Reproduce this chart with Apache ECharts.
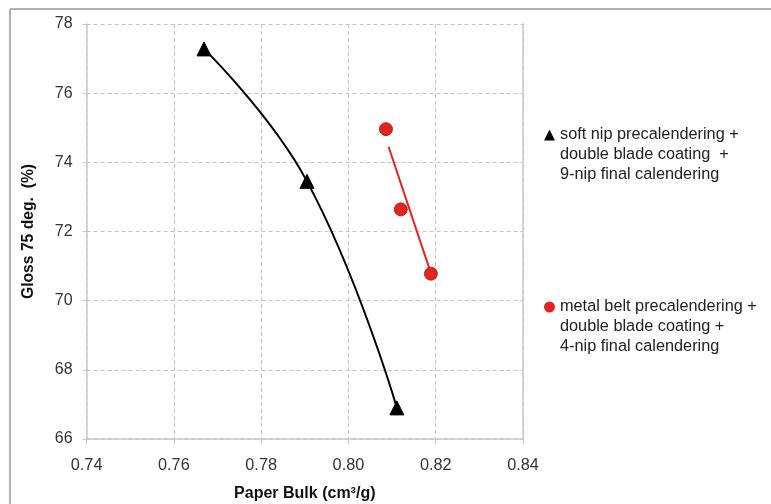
<!DOCTYPE html>
<html><head><meta charset="utf-8">
<script src="https://cdn.jsdelivr.net/npm/echarts@6/dist/echarts.min.js"></script>
<style>html,body{margin:0;padding:0;background:#fff}#c{width:771px;height:504px}</style>
</head><body><div id="c"></div>
<script>
// Data
const softNipBulk = [0.7669, 0.7905, 0.8111];
const softNipGloss = [77.28, 73.45, 66.9];
const metalBeltBulk = [0.8086, 0.8120, 0.8189];
const metalBeltGloss = [74.96, 72.64, 70.78];
const metalTrendBulk = [0.8092, 0.8187];
const metalTrendGloss = [74.45, 70.87];
const xTicks = [0.74, 0.76, 0.78, 0.80, 0.82, 0.84];
const yTicks = [66, 68, 70, 72, 74, 76, 78];
const softName = 'soft nip precalendering +\ndouble blade coating  +\n9-nip final calendering';
const metalName = 'metal belt precalendering +\ndouble blade coating +\n4-nip final calendering';

const zip = (a, b) => a.map((v, i) => [v, b[i]]);
const font = 'Liberation Sans, Arial, sans-serif';
const legendText = {fontSize: 16.3, color: '#222', lineHeight: 20, fontFamily: font};

const chart = echarts.init(document.getElementById('c'), null, {renderer: 'canvas'});
chart.setOption({
  animation: false,
  backgroundColor: '#fff',
  textStyle: {fontFamily: font},
  grid: {left: 86.6, right: 248, top: 24, bottom: 65, containLabel: false, outerBoundsMode: 'none'},
  xAxis: {
    type: 'value', min: xTicks[0], max: xTicks[xTicks.length - 1], interval: 0.02,
    name: 'Paper Bulk (cm³/g)', nameLocation: 'middle', nameGap: 47,
    nameTextStyle: {fontWeight: 'bold', fontSize: 16, color: '#111', fontFamily: font},
    axisLine: {show: true, lineStyle: {color: '#c8c8c8', width: 1.5}},
    axisTick: {show: true, length: 5, lineStyle: {color: '#c8c8c8'}},
    axisLabel: {fontSize: 16.3, color: '#333', margin: 19, formatter: v => v.toFixed(2)},
    splitLine: {show: true, lineStyle: {type: [4, 3], color: '#c4c4c4'}}
  },
  yAxis: [{
    type: 'value', min: yTicks[0], max: yTicks[yTicks.length - 1], interval: 2,
    name: 'Gloss 75 deg.  (%)', nameLocation: 'middle', nameGap: 50,
    nameTextStyle: {fontWeight: 'bold', fontSize: 15.7, color: '#111', fontFamily: font},
    axisLine: {show: true, lineStyle: {color: '#c8c8c8', width: 1.5}},
    axisTick: {show: true, length: 4, lineStyle: {color: '#c8c8c8'}},
    axisLabel: {fontSize: 16, color: '#333', margin: 14},
    splitLine: {show: true, lineStyle: {type: [4, 3], color: '#c4c4c4'}}
  }, {
    type: 'value', min: yTicks[0], max: yTicks[yTicks.length - 1], position: 'right',
    axisLine: {show: true, lineStyle: {color: '#c8c8c8', width: 1.5}},
    axisTick: {show: false}, axisLabel: {show: false}, splitLine: {show: false}
  }],
  legend: [{
    left: 544, top: 85, padding: 0, itemWidth: 11, itemHeight: 11,
    data: [{name: softName, icon: 'triangle', itemStyle: {color: '#000', borderWidth: 0}}],
    formatter: n => '\n\n' + n, textStyle: legendText
  }, {
    left: 544, top: 257, padding: 0, itemWidth: 11, itemHeight: 11,
    data: [{name: metalName, icon: 'circle', itemStyle: {color: '#e52421', borderWidth: 0}}],
    formatter: n => '\n\n' + n, textStyle: legendText
  }],
  graphic: [
    {type: 'line', shape: {x1: 10, y1: 9, x2: 771, y2: 9}, style: {stroke: '#b0b0b0', lineWidth: 2}},
    {type: 'line', shape: {x1: 10, y1: 9, x2: 10, y2: 504}, style: {stroke: '#b0b0b0', lineWidth: 2}}
  ],
  series: [{
    name: softName, type: 'line', data: zip(softNipBulk, softNipGloss), smooth: 0.45,
    symbol: 'triangle', symbolSize: 14, showAllSymbol: true,
    lineStyle: {color: '#000', width: 2},
    itemStyle: {color: '#000', borderColor: '#000'}, z: 3
  }, {
    name: metalName + '_trend', type: 'line', data: zip(metalTrendBulk, metalTrendGloss),
    symbol: 'none', lineStyle: {color: '#e52421', width: 2}, z: 2
  }, {
    name: metalName, type: 'scatter', data: zip(metalBeltBulk, metalBeltGloss),
    symbol: 'circle', symbolSize: 13,
    itemStyle: {color: '#e52421', borderColor: '#8a1a18', borderWidth: 0.8, opacity: 1}, z: 4
  }]
});
</script></body></html>
